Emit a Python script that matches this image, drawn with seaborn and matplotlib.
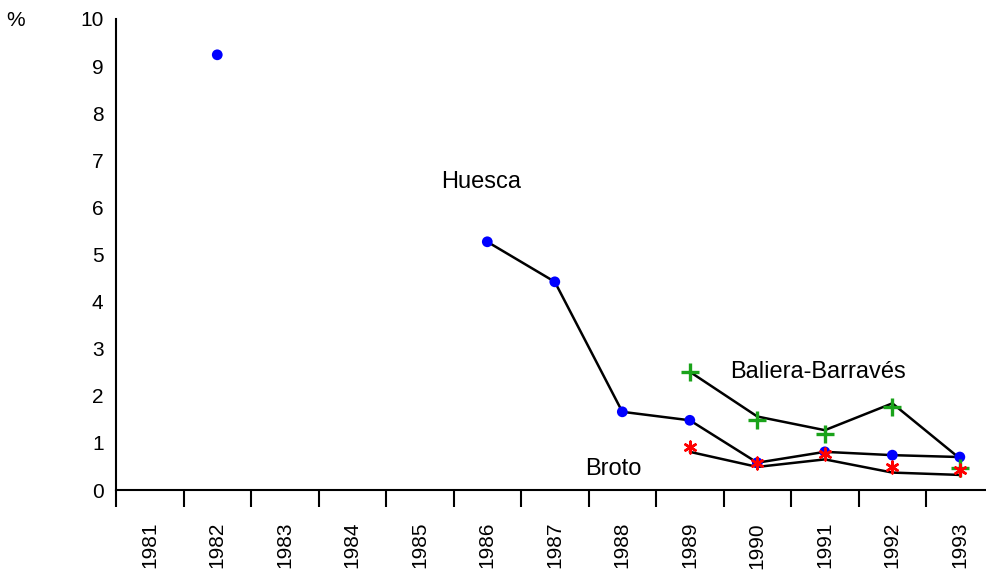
import numpy as np
import pandas as pd
import matplotlib
matplotlib.use("Agg")
import matplotlib.pyplot as plt
import seaborn as sns

# --- données ---
years = [str(y) for y in range(1981, 1994)]

huesca_pts = [None, 9.24, None, None, None, 5.27, 4.42, 1.66, 1.48, 0.58, 0.81, 0.74, 0.70]
huesca_line = [None, None, None, None, None, 5.27, 4.42, 1.66, 1.48, 0.58, 0.81, 0.74, 0.70]

baliera_pts = [None] * 8 + [2.51, 1.49, 1.18, 1.77, 0.46]
baliera_line = [None] * 8 + [2.51, 1.56, 1.27, 1.84, 0.67]

broto_pts = [None] * 8 + [0.92, 0.58, 0.76, 0.49, 0.42]
broto_line = [None] * 8 + [0.81, 0.49, 0.65, 0.37, 0.32]

sns.set_style("white")
plt.rcParams["font.family"] = ["Liberation Sans", "DejaVu Sans"]
plt.rcParams["text.color"] = "black"
plt.rcParams["xtick.color"] = "black"
plt.rcParams["ytick.color"] = "black"

df = pd.DataFrame({
    "x": np.arange(len(years)),
    "huesca_pts": huesca_pts, "huesca_line": huesca_line,
    "baliera_pts": baliera_pts, "baliera_line": baliera_line,
    "broto_pts": broto_pts, "broto_line": broto_line,
}).astype(float)

fig = plt.figure(figsize=(9.86, 5.73), dpi=100)
ax = fig.add_axes([116 / 986, 1 - 490 / 573, (993.6 - 116) / 986, 471 / 573])

# --- lignes noires ---
for col in ["huesca_line", "baliera_line", "broto_line"]:
    d = df.dropna(subset=[col])
    sns.lineplot(data=d, x="x", y=col, color="black", lw=1.8, ax=ax, zorder=2)

# --- marqueurs ---
sns.scatterplot(data=df, x="x", y="huesca_pts", color="#0000ff", s=60,
                marker="o", edgecolor="none", ax=ax, zorder=3)
sns.scatterplot(data=df, x="x", y="baliera_pts", color="#1aa31a", s=150,
                marker="+", linewidth=2.4, ax=ax, zorder=4)
sns.scatterplot(data=df, x="x", y="broto_pts", color="#ff0000", s=70,
                marker=(6, 2, 0), linewidth=1.8, ax=ax, zorder=5)

# --- étiquettes ---
ax.text(4.91, 6.54, "Huesca", fontsize=17, ha="center", va="center")
ax.text(9.9, 2.5, "Baliera-Barravés", fontsize=17, ha="center", va="center")
ax.text(6.86, 0.45, "Broto", fontsize=17, ha="center", va="center")
fig.text(16 / 986, 1 - 20 / 573, "%", fontsize=15, ha="center", va="center")

# --- axes ---
ax.set_xlim(-0.5, len(years) - 0.5)
ax.set_ylim(0, 10)
ax.set_yticks(range(0, 11))
ax.set_xticks(range(len(years)))
ax.set_xticklabels(years, rotation=90)
ax.set_xticks(np.arange(-0.5, len(years) - 0.5, 1), minor=True)
ax.tick_params(axis="x", which="major", length=0, pad=23, labelsize=15)
ax.tick_params(axis="x", which="minor", length=12.2, width=1.5, color="black",
               direction="out", bottom=True)
ax.tick_params(axis="y", length=0, pad=9, labelsize=15)
ax.set_xlabel("")
ax.set_ylabel("")

for side in ["top", "right"]:
    ax.spines[side].set_visible(False)
for side in ["left", "bottom"]:
    ax.spines[side].set_color("black")
    ax.spines[side].set_linewidth(1.5)

fig.savefig("out.png", dpi=100)
